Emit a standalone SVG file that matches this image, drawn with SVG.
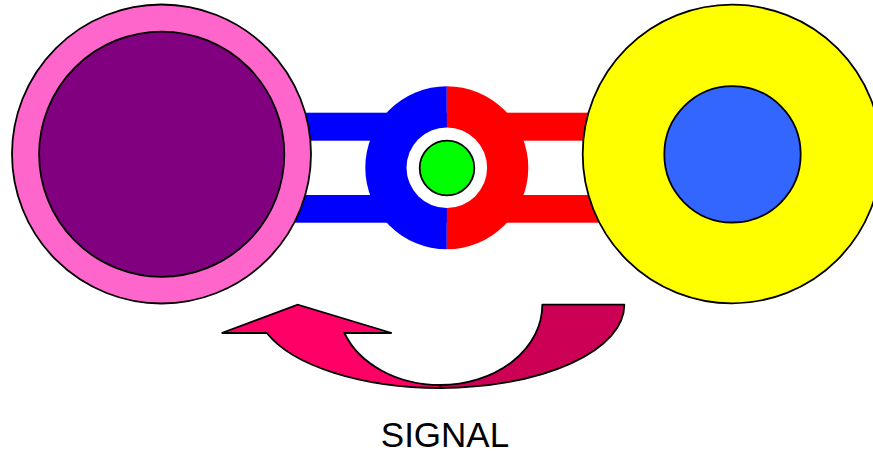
<svg xmlns="http://www.w3.org/2000/svg" width="873" height="452" viewBox="0 0 873 452">
  <style>
    .ol { stroke: #000; stroke-width: 1.8; }
    .label { font-family: "Liberation Sans", Arial, sans-serif; font-size: 35px; fill: #000; }
  </style>
  <rect width="873" height="452" fill="#fff"/>
  <g id="connectors">
    <rect x="290" y="112.7" width="157" height="28" fill="#0000ff"/>
    <rect x="290" y="195" width="157" height="27.7" fill="#0000ff"/>
    <rect x="447" y="112.7" width="155" height="28" fill="#ff0000"/>
    <rect x="447" y="195" width="155" height="27.7" fill="#ff0000"/>
  </g>
  <g id="center-node">
    <path d="M446.8,86.2 A81.5,81.5 0 0 0 446.8,249.2 Z" fill="#0000ff"/>
    <path d="M446.8,86.2 A81.5,81.5 0 0 1 446.8,249.2 Z" fill="#ff0000"/>
    <circle cx="446.8" cy="167.7" r="40.3" fill="#fff"/>
    <circle cx="447" cy="168" r="27.3" fill="#00ff00" class="ol"/>
  </g>
  <g id="left-node">
    <circle cx="161.5" cy="154" r="149.5" fill="#ff66cc" class="ol"/>
    <circle cx="161.7" cy="154.2" r="122.6" fill="#800080" class="ol"/>
  </g>
  <g id="right-node">
    <circle cx="732" cy="154" r="149.3" fill="#ffff00" class="ol"/>
    <circle cx="732.5" cy="154.3" r="68.2" fill="#3366ff" class="ol"/>
  </g>
  <g id="signal-arrow">
    <path d="M542.3,304.7 L624.3,304.7 A184,83 0 0 1 440,388 L440,385 A102,80 0 0 0 542.3,304.7 Z" fill="#cc0055" class="ol" stroke-linejoin="round"/>
    <path d="M266.8,333 A184,83 0 0 0 440,388 L440,385 A102,80 0 0 1 344.4,333 L391.7,333 L297.7,304.7 L221.7,333 Z" fill="#ff0066" class="ol"/>
  </g>
  <g id="signal-label">
    <text x="445" y="446.5" text-anchor="middle" class="label">SIGNAL</text>
  </g>
</svg>
